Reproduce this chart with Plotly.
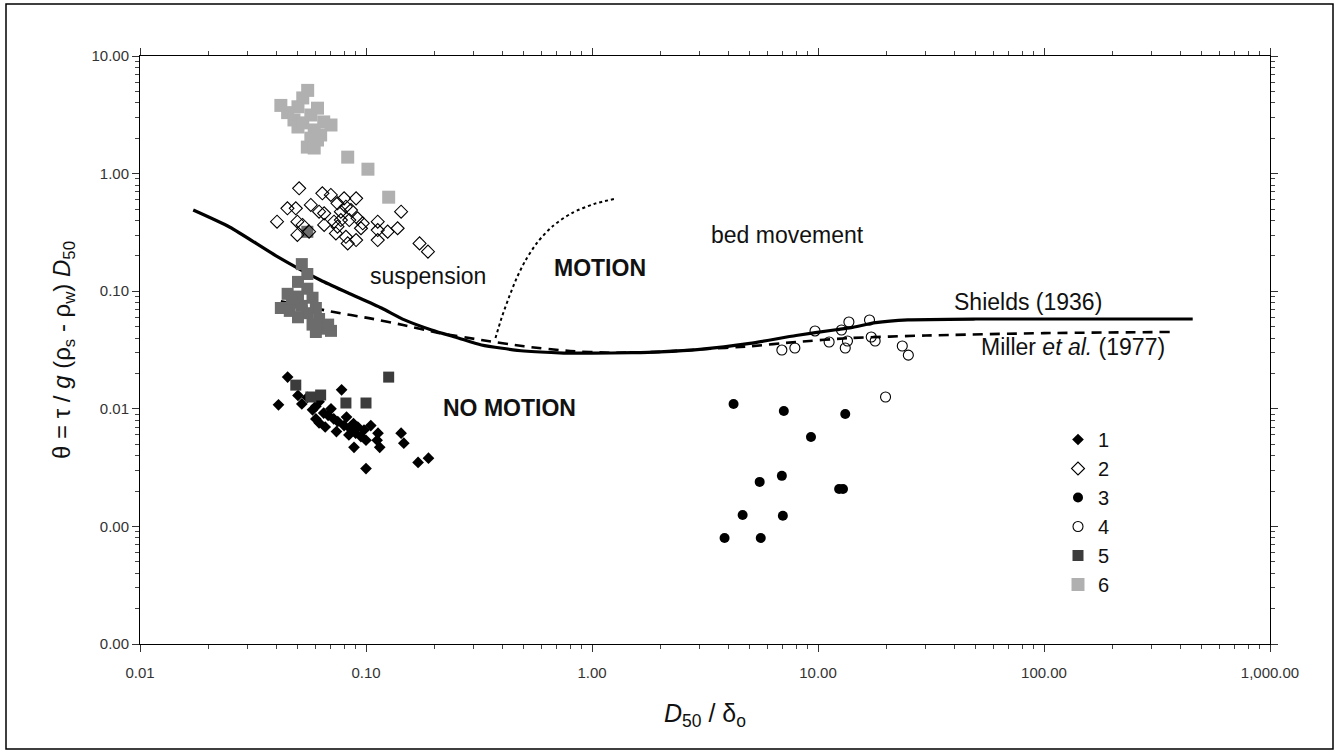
import math
import plotly.graph_objects as go

# ---------------- data ----------------
x_tickvals = [0.01, 0.1, 1, 10, 100, 1000]
x_ticktext = ["0.01", "0.10", "1.00", "10.00", "100.00", "1,000.00"]
y_tickvals = [10, 1, 0.1, 0.01, 0.001, 0.0001]
y_ticktext = ["10.00", "1.00", "0.10", "0.01", "0.00", "0.00"]

shields_x = [0.0172, 0.025, 0.04, 0.063, 0.083, 0.117, 0.148, 0.195, 0.256, 0.324, 0.5, 0.75,
             1.0, 1.5, 2.0, 3.0, 5.0, 8.0, 12.0, 14.0, 18.0, 25.0, 50.0, 100.0, 455.0]
shields_y = [0.49, 0.35, 0.2, 0.124, 0.097, 0.072, 0.057, 0.0468, 0.040, 0.0349, 0.031, 0.0298,
             0.0297, 0.030, 0.0305, 0.032, 0.036, 0.042, 0.047, 0.049, 0.054, 0.057, 0.058, 0.058, 0.058]

miller_x = [0.042, 0.072, 0.103, 0.146, 0.209, 0.324, 0.5, 0.8, 1.2, 2.0, 3.0, 5.0, 8.0, 14.0,
            30.0, 100.0, 360.0]
miller_y = [0.082, 0.0665, 0.059, 0.0516, 0.0442, 0.0385, 0.034, 0.031, 0.030, 0.0305, 0.032,
            0.034, 0.037, 0.040, 0.042, 0.044, 0.045]

dotted_x = [0.374, 0.398, 0.428, 0.464, 0.509, 0.575, 0.671, 0.815, 1.02, 1.25]
dotted_y = [0.040, 0.0592, 0.0875, 0.129, 0.184, 0.262, 0.358, 0.462, 0.551, 0.608]

s1_x = [0.045, 0.041, 0.05, 0.052, 0.055, 0.058, 0.06, 0.062, 0.065, 0.068, 0.07, 0.072, 0.075,
        0.078, 0.08, 0.082, 0.085, 0.088, 0.09, 0.092, 0.095, 0.098, 0.1, 0.1, 0.105, 0.113,
        0.115, 0.112, 0.143, 0.147, 0.17, 0.189, 0.0885, 0.062, 0.06, 0.066, 0.074, 0.084]
s1_y = [0.0186, 0.0108, 0.013, 0.011, 0.0125, 0.0098, 0.0105, 0.0115, 0.0092, 0.0088, 0.0100,
        0.0082, 0.0078, 0.0145, 0.0072, 0.0085, 0.0068, 0.0075, 0.0062, 0.0070, 0.0058, 0.0066,
        0.0054, 0.0031, 0.0072, 0.0062, 0.0047, 0.0054, 0.0062, 0.0051, 0.0035, 0.0038, 0.0047,
        0.0076, 0.0082, 0.0070, 0.0064, 0.0060]

s2_x = [0.0506, 0.0641, 0.0699, 0.080, 0.0904, 0.0449, 0.0489, 0.057, 0.062, 0.0748, 0.0815,
        0.0774, 0.0858, 0.0404, 0.0497, 0.0524, 0.0653, 0.0722, 0.0774, 0.0843, 0.0918, 0.0967,
        0.1127, 0.138, 0.143, 0.0497, 0.056, 0.0736, 0.0815, 0.0904, 0.083, 0.1127, 0.1127,
        0.1247, 0.1726, 0.188, 0.0748, 0.095, 0.0653]
s2_y = [0.75, 0.68, 0.658, 0.616, 0.616, 0.507, 0.507, 0.541, 0.474, 0.559, 0.523, 0.474, 0.49,
        0.39, 0.39, 0.366, 0.366, 0.39, 0.403, 0.403, 0.417, 0.378, 0.39, 0.343, 0.474, 0.301,
        0.321, 0.31, 0.29, 0.272, 0.255, 0.331, 0.272, 0.321, 0.255, 0.217, 0.354, 0.343, 0.459]

s3_x = [4.23, 7.06, 9.31, 13.2, 5.52, 6.92, 4.64, 6.99, 3.86, 5.58, 12.4, 12.9]
s3_y = [0.011, 0.00957, 0.00575, 0.00903, 0.00239, 0.00269, 0.00125, 0.00123, 0.000796,
        0.000796, 0.00208, 0.00208]

s4_x = [6.92, 7.9, 9.7, 11.2, 12.7, 13.7, 13.2, 13.5, 16.9, 17.2, 17.9, 23.6, 25.1, 19.9]
s4_y = [0.0316, 0.0329, 0.0459, 0.037, 0.0468, 0.0547, 0.0329, 0.0377, 0.0569, 0.0408, 0.0377,
        0.0342, 0.0286, 0.0126]

s5_x = [0.0489, 0.057, 0.063, 0.0815, 0.1, 0.126]
s5_y = [0.0159, 0.0126, 0.0131, 0.0112, 0.0112, 0.0186]

s5_mid_x = [0.052, 0.055, 0.05, 0.055, 0.045, 0.05, 0.058, 0.047, 0.052, 0.042, 0.06, 0.046,
            0.055, 0.05, 0.062, 0.058, 0.065, 0.07, 0.06, 0.068, 0.055]
s5_mid_y = [0.17, 0.14, 0.12, 0.105, 0.095, 0.09, 0.088, 0.08, 0.075, 0.072, 0.072, 0.068,
            0.065, 0.06, 0.058, 0.052, 0.048, 0.046, 0.045, 0.052, 0.32]

s6_x = [0.0552, 0.0525, 0.050, 0.042, 0.045, 0.048, 0.050, 0.057, 0.061, 0.065, 0.07, 0.059,
        0.057, 0.061, 0.055, 0.059, 0.063, 0.0525, 0.083, 0.102, 0.126]
s6_y = [5.1, 4.4, 3.7, 3.8, 3.3, 2.86, 2.49, 3.15, 3.6, 2.75, 2.59, 2.35, 2.0, 1.93, 1.68, 1.65,
        2.13, 2.7, 1.38, 1.09, 0.63]

# ---------------- figure ----------------
FONT = "Liberation Sans, Arial, sans-serif"
fig = go.Figure()

fig.add_trace(go.Scatter(x=shields_x, y=shields_y, mode="lines", showlegend=False,
                         line=dict(color="black", width=3.2, shape="spline", smoothing=0.6),
                         hoverinfo="skip"))
fig.add_trace(go.Scatter(x=miller_x, y=miller_y, mode="lines", showlegend=False,
                         line=dict(color="black", width=2.6, dash="10px,7px", shape="spline",
                                   smoothing=0.6), hoverinfo="skip"))
fig.add_trace(go.Scatter(x=dotted_x, y=dotted_y, mode="lines", showlegend=False,
                         line=dict(color="black", width=2, dash="dot", shape="spline",
                                   smoothing=0.8), hoverinfo="skip"))

fig.add_trace(go.Scatter(x=s6_x, y=s6_y, mode="markers", name="6",
                         marker=dict(symbol="square", size=13, color="#b0b0b0")))
fig.add_trace(go.Scatter(x=s5_mid_x, y=s5_mid_y, mode="markers", name="5", showlegend=False,
                         legendgroup="5",
                         marker=dict(symbol="square", size=12, color="#6c6c6c")))
fig.add_trace(go.Scatter(x=s1_x, y=s1_y, mode="markers", name="1",
                         marker=dict(symbol="diamond", size=9, color="black")))
fig.add_trace(go.Scatter(x=s5_x, y=s5_y, mode="markers", name="5", legendgroup="5",
                         marker=dict(symbol="square", size=11, color="#3c3c3c")))
fig.add_trace(go.Scatter(x=s2_x, y=s2_y, mode="markers", name="2",
                         marker=dict(symbol="diamond-open", size=10, color="black",
                                     line=dict(width=1.1))))
fig.add_trace(go.Scatter(x=s3_x, y=s3_y, mode="markers", name="3",
                         marker=dict(symbol="circle", size=10, color="black")))
fig.add_trace(go.Scatter(x=s4_x, y=s4_y, mode="markers", name="4",
                         marker=dict(symbol="circle-open", size=10, color="black",
                                     line=dict(width=1.1))))

L, R, T, B = 140, 68, 56, 110
W, H = 1338, 754
pw, ph = W - L - R, H - T - B


def px(xp):
    return (xp - L) / pw


def py(yp):
    return (H - B - yp) / ph


shapes = [
    # faint scan background behind upper cluster
    dict(type="rect", xref="x", yref="y", x0=math.log10(0.039), x1=math.log10(0.162),
         y0=math.log10(0.038), y1=math.log10(6.2), fillcolor="#f4f4f4", line=dict(width=0),
         layer="below"),
    # outer frame
    dict(type="rect", xref="paper", yref="paper", x0=px(6), x1=px(1333), y0=py(749), y1=py(4),
         line=dict(color="black", width=1.5), fillcolor="rgba(0,0,0,0)"),
]

ann_font = dict(family=FONT, size=23, color="#111")
annotations = [
    dict(text="suspension", x=-0.724, y=-0.871),
    dict(text="<b>MOTION</b>", x=0.035, y=-0.803),
    dict(text="bed movement", x=0.867, y=-0.522),
    dict(text="<b>NO MOTION</b>", x=-0.364, y=-1.993),
    dict(text="Shields (1936)", x=1.929, y=-1.092),
    dict(text="Miller <i>et al.</i> (1977)", x=2.129, y=-1.474),
]
for a in annotations:
    a.update(xref="x", yref="y", showarrow=False, xanchor="center", yanchor="middle",
             font=ann_font)

axis_common = dict(type="log", showline=True, linecolor="black", linewidth=1, mirror="allticks",
                   ticks="outside", ticklen=7, tickcolor="#333", showgrid=False, zeroline=False,
                   tickfont=dict(family=FONT, size=15, color="#333"),
                   minor=dict(ticks="outside", ticklen=4, tickcolor="#444", dtick="D1",
                              showgrid=False))

fig.update_xaxes(range=[-2, 3], tickvals=x_tickvals, ticktext=x_ticktext,
                 ticklabelstandoff=8,
                 title=dict(text="<i>D</i><sub>50</sub> / δ<sub>o</sub>",
                            font=dict(family=FONT, size=25, color="#111"), standoff=24),
                 **axis_common)
fig.update_yaxes(range=[-4, 1], tickvals=y_tickvals, ticktext=y_ticktext,
                 title=dict(text="θ = τ / <i>g</i> (ρ<sub>s</sub> - ρ<sub>w</sub>) <i>D</i><sub>50</sub>",
                            font=dict(family=FONT, size=24, color="#111"), standoff=14),
                 **axis_common)

fig.update_layout(
    width=W, height=H, margin=dict(l=L, r=R, t=T, b=B),
    paper_bgcolor="white", plot_bgcolor="white",
    shapes=shapes, annotations=annotations,
    legend=dict(x=px(1058), y=py(420), xanchor="left", yanchor="top",
                font=dict(family=FONT, size=20, color="#111"), bgcolor="rgba(0,0,0,0)",
                traceorder="normal", itemsizing="trace", tracegroupgap=0),
    font=dict(family=FONT),
)

# legend order 1..6
order = {"1": 1, "2": 2, "3": 3, "4": 4, "5": 5, "6": 6}
for tr in fig.data:
    if tr.name in order:
        tr.legendrank = order[tr.name]

fig.write_html("out.html")
